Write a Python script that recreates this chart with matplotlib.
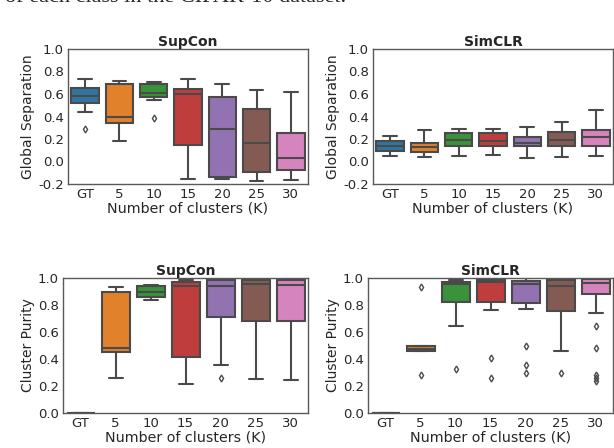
import matplotlib
matplotlib.use("Agg")
import matplotlib.pyplot as plt
import seaborn as sns

categories = ["GT", "5", "10", "15", "20", "25", "30"]

# ---- Global Separation, SupCon ----
sep_sup_lo  = [0.437, 0.182, 0.547, -0.153, -0.156, -0.176, -0.164]
sep_sup_q1  = [0.517, 0.345, 0.570, 0.144, -0.135, -0.096, -0.076]
sep_sup_med = [0.582, 0.398, 0.612, 0.600, 0.286, 0.167, 0.034]
sep_sup_q3  = [0.656, 0.686, 0.686, 0.644, 0.576, 0.467, 0.250]
sep_sup_hi  = [0.733, 0.716, 0.707, 0.733, 0.692, 0.636, 0.618]
sep_sup_fl  = [[0.292], [], [0.384], [], [], [], []]

# ---- Global Separation, SimCLR ----
sep_sim_lo  = [0.052, 0.043, 0.046, 0.061, 0.028, 0.043, 0.049]
sep_sim_q1  = [0.093, 0.084, 0.135, 0.141, 0.138, 0.138, 0.141]
sep_sim_med = [0.138, 0.129, 0.194, 0.185, 0.167, 0.194, 0.221]
sep_sim_q3  = [0.182, 0.167, 0.253, 0.253, 0.221, 0.262, 0.280]
sep_sim_hi  = [0.227, 0.283, 0.286, 0.286, 0.307, 0.354, 0.458]
sep_sim_fl  = [[], [], [], [], [], [], []]

# ---- Cluster Purity, SupCon ----
pur_sup_lo  = [0.0, 0.259, 0.840, 0.215, 0.358, 0.249, 0.242]
pur_sup_q1  = [0.0, 0.452, 0.857, 0.412, 0.709, 0.679, 0.684]
pur_sup_med = [0.0, 0.484, 0.900, 0.943, 0.943, 0.956, 0.946]
pur_sup_q3  = [0.0, 0.896, 0.938, 0.968, 0.983, 0.983, 0.983]
pur_sup_hi  = [0.0, 0.936, 0.951, 0.988, 0.995, 0.995, 0.995]
pur_sup_fl  = [[], [], [], [], [0.257], [], []]

# ---- Cluster Purity, SimCLR ----
pur_sim_lo  = [0.0, 0.456, 0.641, 0.761, 0.773, 0.461, 0.741]
pur_sim_q1  = [0.0, 0.456, 0.825, 0.823, 0.815, 0.756, 0.885]
pur_sim_med = [0.0, 0.476, 0.953, 0.968, 0.953, 0.940, 0.963]
pur_sim_q3  = [0.0, 0.499, 0.973, 0.988, 0.980, 0.985, 0.993]
pur_sim_hi  = [0.0, 0.499, 0.988, 0.998, 0.998, 0.998, 0.998]
pur_sim_fl  = [[], [0.935, 0.282], [0.329], [0.411, 0.262],
               [0.499, 0.357, 0.294], [0.299],
               [0.643, 0.479, 0.284, 0.257, 0.234]]

sns.set_theme(style="white")
plt.rcParams["font.family"] = ["DejaVu Sans"]

colors = sns.color_palette("tab10", 7, desat=0.75)
gray = "#4a4a4a"


def make_stats(lo, q1, med, q3, hi, fl):
    return [dict(whislo=a, q1=b, med=c, q3=d, whishi=e, fliers=f, label=lab)
            for a, b, c, d, e, f, lab in zip(lo, q1, med, q3, hi, fl, categories)]


def draw(ax, stats, title, ylabel, ylim, yticks):
    bp = ax.bxp(stats, positions=range(len(stats)), widths=0.8,
                patch_artist=True, showfliers=True,
                boxprops=dict(edgecolor=gray, linewidth=1.5),
                whiskerprops=dict(color=gray, linewidth=1.5),
                capprops=dict(color=gray, linewidth=1.5),
                medianprops=dict(color=gray, linewidth=1.5),
                flierprops=dict(marker="d", markerfacecolor="none",
                                markeredgecolor=gray, markersize=3.5,
                                markeredgewidth=1.0))
    for patch, c in zip(bp["boxes"], colors):
        patch.set_facecolor(c)
    ax.set_xlim(-0.5, len(stats) - 0.5)
    ax.set_ylim(*ylim)
    ax.set_yticks(yticks)
    ax.set_yticklabels([f"{t:.1f}" for t in yticks])
    ax.set_xticks(range(len(stats)))
    ax.set_xticklabels(categories)
    ax.set_title(title, fontsize=10, fontweight="bold", pad=2)
    ax.set_ylabel(ylabel, fontsize=10, labelpad=2)
    ax.set_xlabel("Number of clusters (K)", fontsize=10.3, labelpad=0)
    ax.tick_params(axis="both", labelsize=9.5, length=0, pad=3, colors="0.15")
    for s in ax.spines.values():
        s.set_color("0.35")
        s.set_linewidth(1.0)


fig = plt.figure(figsize=(6.14, 4.48), dpi=100)
ax1 = fig.add_axes([68 / 614, 1 - 184 / 448, 240 / 614, 135 / 448])
ax2 = fig.add_axes([373 / 614, 1 - 184 / 448, 240 / 614, 135 / 448])
ax3 = fig.add_axes([63 / 614, 1 - 413 / 448, 245 / 614, 135 / 448])
ax4 = fig.add_axes([368 / 614, 1 - 413 / 448, 245 / 614, 135 / 448])

sep_ticks = [-0.2, 0.0, 0.2, 0.4, 0.6, 0.8, 1.0]
pur_ticks = [0.0, 0.2, 0.4, 0.6, 0.8, 1.0]

draw(ax1, make_stats(sep_sup_lo, sep_sup_q1, sep_sup_med, sep_sup_q3, sep_sup_hi, sep_sup_fl),
     "SupCon", "Global Separation", (-0.2, 1.0), sep_ticks)
draw(ax2, make_stats(sep_sim_lo, sep_sim_q1, sep_sim_med, sep_sim_q3, sep_sim_hi, sep_sim_fl),
     "SimCLR", "Global Separation", (-0.2, 1.0), sep_ticks)
draw(ax3, make_stats(pur_sup_lo, pur_sup_q1, pur_sup_med, pur_sup_q3, pur_sup_hi, pur_sup_fl),
     "SupCon", "Cluster Purity", (0.0, 1.0), pur_ticks)
draw(ax4, make_stats(pur_sim_lo, pur_sim_q1, pur_sim_med, pur_sim_q3, pur_sim_hi, pur_sim_fl),
     "SimCLR", "Cluster Purity", (0.0, 1.0), pur_ticks)

# Partially visible caption line at the very top (cropped in the source)
fig.text(5 / 614, 1 - 1.5 / 448, "of each class in the CIFAR-10 dataset.",
         fontsize=16, family=["Liberation Serif"], va="baseline", ha="left")

fig.savefig("out.png", dpi=100)
